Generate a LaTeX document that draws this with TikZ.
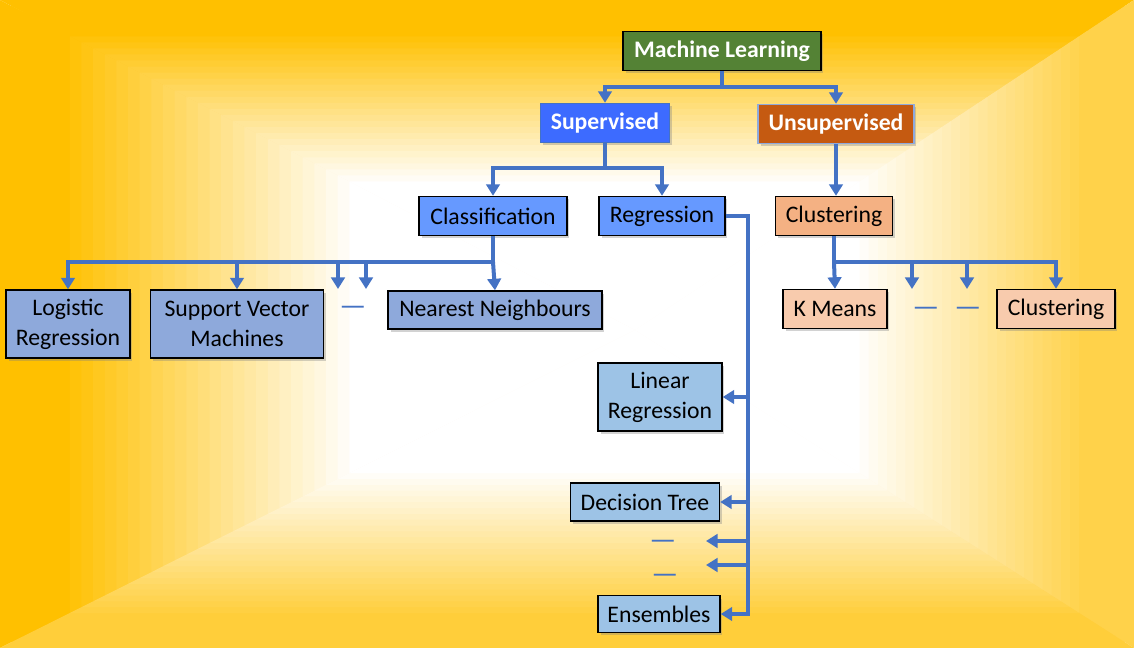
\documentclass[tikz,border=0pt]{standalone}
\usepackage{fontspec}
\setmainfont{Carlito}
\usetikzlibrary{arrows.meta, shadows, calc}

\definecolor{bggold}{HTML}{FFC000}
\definecolor{bgright}{HTML}{FFD24A}
\definecolor{bgbottom}{HTML}{FFCE3A}
\definecolor{linkblue}{HTML}{4472C4}
\definecolor{mlgreen}{HTML}{548235}
\definecolor{supblue}{HTML}{3D6BFF}
\definecolor{unsuporange}{HTML}{C55A11}
\definecolor{unsupedge}{HTML}{8FAADC}
\definecolor{catblue}{HTML}{6699FF}
\definecolor{leafblue}{HTML}{8EA9DB}
\definecolor{regblue}{HTML}{9DC3E6}
\definecolor{clusorange}{HTML}{F4B183}
\definecolor{clusleafpeach}{HTML}{F8CBAD}

\begin{document}
\begin{tikzpicture}[
    x=0.02cm, y=-0.02cm,
    font=\fontsize{13.5}{17}\selectfont,
    block/.style = {rectangle, draw=black, line width=0.8pt, align=center, inner sep=2pt, minimum height=0.78cm, drop shadow={opacity=0.35, shadow xshift=0.05cm, shadow yshift=-0.06cm}},
    mainblock/.style = {block, fill=mlgreen, text=white, font=\fontsize{13.5}{17}\selectfont\bfseries},
    supblock/.style = {block, draw=linkblue, fill=supblue, text=white, font=\fontsize{13.5}{17}\selectfont\bfseries},
    unsupblock/.style = {block, draw=unsupedge, fill=unsuporange, text=white, font=\fontsize{13.5}{17}\selectfont\bfseries},
    catblock/.style = {block, fill=catblue},
    clusblock/.style = {block, fill=clusorange},
    leafblock/.style = {block, fill=leafblue},
    regleaf/.style = {block, fill=regblue},
    clusleaf/.style = {block, fill=clusleafpeach},
    dashmark/.style = {inner sep=0pt, text=linkblue, font=\fontsize{17}{19}\selectfont},
    bus/.style = {draw=linkblue, line width=0.08cm},
    arrow/.style = {bus, -{Triangle[width=0.27cm, length=0.23cm]}}
]
\useasboundingbox (0,0) rectangle (1134,648);

% Background: gold edges fading to a white middle (rings shrinking to (635,330))
\foreach \i in {0,...,30} {
  \pgfmathsetmacro\t{0.55*\i/30}
  \pgfmathsetmacro\p{min(100,120*(1-\i/30))}
  \pgfmathsetmacro\L{\t*635}
  \pgfmathsetmacro\R{1134-\t*499}
  \pgfmathsetmacro\T{\t*330}
  \pgfmathsetmacro\B{648-\t*318}
  \fill[bggold!\p!white] (\L,\T) -- (\R,\T) -- (635,330) -- cycle;
  \fill[bggold!\p!white] (\L,\T) -- (\L,\B) -- (635,330) -- cycle;
  \fill[bgright!\p!white] (\R,\T) -- (\R,\B) -- (635,330) -- cycle;
  \fill[bgbottom!\p!white] (\L,\B) -- (\R,\B) -- (635,330) -- cycle;
}

% Top levels
\node (ml) [mainblock, minimum width=3.96cm] at (722, 51) {Machine Learning};
\node (sup) [supblock, minimum width=2.58cm] at (605, 123) {Supervised};
\node (unsup) [unsupblock, minimum width=3.12cm] at (836, 124) {Unsupervised};

% Second level
\node (clas) [catblock, minimum width=2.96cm] at (493, 216) {Classification};
\node (regr) [catblock, minimum width=2.52cm] at (662, 216) {Regression};
\node (clus) [clusblock, minimum width=2.34cm] at (834, 216) {Clustering};

% Classification leaves
\node (logreg) [leafblock, minimum width=2.48cm, minimum height=1.36cm] at (68, 324) {Logistic\\Regression};
\node (svm) [leafblock, minimum width=3.46cm, minimum height=1.36cm] at (237, 324) {Support Vector\\Machines};
\node (dashA) [dashmark] at (353, 311) {—};
\node (nn) [leafblock, minimum width=4.28cm, minimum height=0.76cm] at (495, 310) {Nearest Neighbours};

% Clustering leaves
\node (kmeans) [clusleaf, minimum width=2.08cm] at (835, 309) {K Means};
\node (dashB) [dashmark] at (926, 312) {—};
\node (dashC) [dashmark] at (968, 312) {—};
\node (clus2) [clusleaf, minimum width=2.36cm] at (1056, 309) {Clustering};

% Regression leaves
\node (linreg) [regleaf, minimum width=2.48cm, minimum height=1.36cm] at (660, 397) {Linear\\Regression};
\node (dtree) [regleaf, minimum width=2.98cm, minimum height=0.76cm] at (645, 502) {Decision Tree};
\node (dashD) [dashmark] at (663, 545) {—};
\node (dashE) [dashmark] at (665, 579) {—};
\node (ens) [regleaf, minimum width=2.44cm, minimum height=0.74cm] at (659, 614) {Ensembles};

% Bus points and open arrow ends
\coordinate (mlbus) at (722, 87);
\coordinate (supbus) at (605, 168);
\coordinate (clasbus) at (493, 262);
\coordinate (clusbus) at (834, 262);
\coordinate (regend) at (748, 614);
\coordinate (openA) at (338, 289);
\coordinate (openB) at (366, 289);
\coordinate (openC) at (912, 289);
\coordinate (openD) at (967, 289);
\coordinate (openE) at (706, 541);
\coordinate (openF) at (706, 565);

% Machine Learning split
\draw [bus] (ml.south) -- (mlbus);
\draw [arrow] (mlbus) -| (sup.north);
\draw [arrow] (mlbus) -| (unsup.north);

% Supervised split
\draw [bus] (sup.south) -- (supbus);
\draw [arrow] (supbus) -| (clas.north);
\draw [arrow] (supbus) -| (regr.north);

% Unsupervised down to Clustering
\draw [arrow] (unsup.south) -- (unsup.south |- clus.north);

% Classification fan-out
\draw [bus] (clas.south) -- (clasbus);
\draw [arrow] (clasbus) -| (logreg.north);
\draw [arrow] (clasbus) -| (svm.north);
\draw [arrow] (clasbus) -| (openA);
\draw [arrow] (clasbus) -| (openB);
\draw [arrow] (clasbus) -- (nn.north);

% Clustering fan-out
\draw [bus] (clus.south) -- (clusbus);
\draw [arrow] (clusbus) -- (kmeans.north);
\draw [arrow] (clusbus) -| (openC);
\draw [arrow] (clusbus) -| (openD);
\draw [arrow] (clusbus) -| (clus2.north);

% Regression side bus
\draw [arrow] (regr.east) -| (regend) -- (ens.east);
\draw [arrow] (regend |- linreg.east) -- (linreg.east);
\draw [arrow] (regend |- dtree.east) -- (dtree.east);
\draw [arrow] (regend |- openE) -- (openE);
\draw [arrow] (regend |- openF) -- (openF);

\end{tikzpicture}
\end{document}
